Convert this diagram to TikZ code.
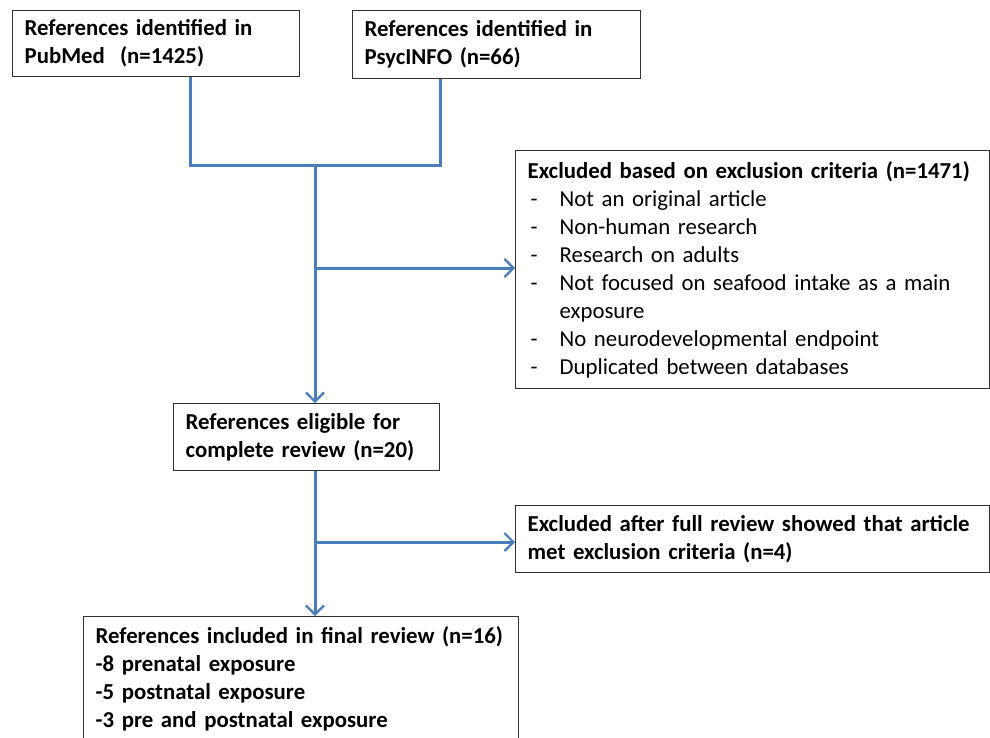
\documentclass[tikz,border=0pt]{standalone}
\usepackage{fontspec}
\setmainfont{Carlito}
\usetikzlibrary{arrows.meta, positioning, calc}
\definecolor{flowblue}{RGB}{74,126,187}
\definecolor{boxgray}{RGB}{50,50,50}
\newcommand{\critem}[1]{\hspace*{3pt}\makebox[29pt][l]{-}#1}

\begin{document}
\begin{tikzpicture}[
    x=1pt, y=-1pt,
    font=\fontsize{22.8}{28}\selectfont,
    box/.style={draw=boxgray, line width=1.3pt, anchor=north west, align=left, inner xsep=12pt, inner ysep=5pt},
    flowline/.style={draw=flowblue, line width=3pt},
    flowarrow/.style={flowline, -{Straight Barb[length=9pt, width=18pt, line width=2.2pt]}}
]
\useasboundingbox (0,0) rectangle (990,737);
\clip (0,0) rectangle (990,737);

% --- Sources ---
\node[box, minimum width=287pt, minimum height=66pt, text width=263pt] (pub) at (12,10)
    {\bfseries References identified in\\PubMed\ \ (n=1425)};
\node[box, minimum width=288pt, minimum height=68pt, text width=264pt] (psy) at (352,10)
    {\bfseries References identified in\\PsycINFO (n=66)};

% --- Screening ---
\node[box, minimum width=474pt, minimum height=238pt, text width=450pt] (excl) at (515,150)
    {\textbf{Excluded based on exclusion criteria (n=1471)}\\
     \critem{Not an original article}\\
     \critem{Non-human research}\\
     \critem{Research on adults}\\
     \critem{Not focused on seafood intake as a main}\\
     \hspace*{32pt}exposure\\
     \critem{No neurodevelopmental endpoint}\\
     \critem{Duplicated between databases}};
\node[box, minimum width=266pt, minimum height=67pt, text width=242pt] (elig) at (173,403)
    {\bfseries References eligible for\\complete review (n=20)};

% --- Full review ---
\node[box, minimum width=474pt, minimum height=67pt, text width=450pt] (excl2) at (515,505)
    {\bfseries Excluded after full review showed that article\\met exclusion criteria (n=4)};
\node[box, minimum width=435pt, text width=411pt, inner ysep=10pt] (final) at (83,616)
    {\bfseries References included in final review (n=16)\\
     -8 prenatal exposure\\
     -5 postnatal exposure\\
     -3 pre and postnatal exposure\\
     \mbox{}};

% --- Connectors ---
\coordinate (m1) at (315,165);
\coordinate (b1) at (315,268);
\coordinate (b2) at (315,542);
\draw[flowline] ([xshift=34.5pt]pub.south) |- (m1);
\draw[flowline] ([xshift=-56pt]psy.south) |- (m1);
\draw[flowarrow] (m1) -- (m1 |- elig.north);
\draw[flowarrow] (b1) -- (b1 -| excl.west);
\draw[flowarrow] (elig.south -| m1) -- (m1 |- final.north);
\draw[flowarrow] (b2) -- (b2 -| excl2.west);

\end{tikzpicture}
\end{document}
